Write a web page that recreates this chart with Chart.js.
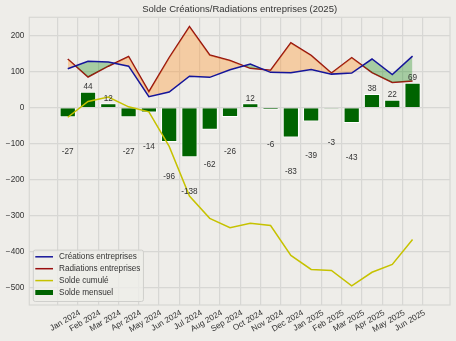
<!DOCTYPE html>
<html>
<head>
<meta charset="utf-8">
<script src="https://cdn.jsdelivr.net/npm/chart.js@4.4.1/dist/chart.umd.min.js"></script>
<style>
  html, body { margin: 0; padding: 0; background: #eeede9; }
  canvas { display: block; }
</style>
</head>
<body>
<canvas id="chart" width="456" height="341"></canvas>
<script>
const months = ["Jan 2024", "Feb 2024", "Mar 2024", "Apr 2024", "May 2024", "Jun 2024",
  "Jul 2024", "Aug 2024", "Sep 2024", "Oct 2024", "Nov 2024", "Dec 2024",
  "Jan 2025", "Feb 2025", "Mar 2025", "Apr 2025", "May 2025", "Jun 2025"];
const creations = [108, 129, 127, 115, 30, 43, 87, 84, 105, 121, 98, 97, 106, 93, 96, 135, 92, 143];
const radiations = [135, 85, 115, 142, 44, 139, 225, 146, 131, 109, 104, 180, 145, 96, 139, 97, 70, 74];
const soldeMensuel = [-27, 44, 12, -27, -14, -96, -138, -62, -26, 12, -6, -83, -39, -3, -43, 38, 22, 69];
const soldeCumule = [-27, 17, 29, 2, -12, -108, -246, -308, -334, -322, -328, -411, -450, -453, -496, -458, -436, -367];
const yTicks = [-500, -400, -300, -200, -100, 0, 100, 200];

const FONT = "'Liberation Sans', Arial, sans-serif";
const FS = 8.2;
const BG = '#eeede9';
const GRID = '#d7d7d4';
const TXT = '#333333';

Chart.defaults.font.family = FONT;
Chart.defaults.font.size = FS;
Chart.defaults.color = TXT;

const pts = arr => arr.map((v, i) => ({ x: i, y: v }));

// background + plot frame
const framePlugin = {
  id: 'frame',
  beforeDraw(chart) {
    const { ctx, width, height } = chart;
    ctx.save();
    ctx.fillStyle = BG;
    ctx.fillRect(0, 0, width, height);
    ctx.restore();
  },
  beforeDatasetsDraw(chart) {
    const { ctx, chartArea: a } = chart;
    ctx.save();
    ctx.strokeStyle = GRID;
    ctx.lineWidth = 1.2;
    ctx.strokeRect(a.left, a.top, a.right - a.left, a.bottom - a.top);
    ctx.restore();
  }
};

// value labels under / over the monthly bars
const barLabels = {
  id: 'barLabels',
  afterDatasetsDraw(chart) {
    const { ctx, scales: { x, y } } = chart;
    ctx.save();
    ctx.font = `${FS}px ${FONT}`;
    ctx.fillStyle = TXT;
    ctx.textAlign = 'center';
    ctx.textBaseline = 'middle';
    soldeMensuel.forEach((v, i) => {
      const py = y.getPixelForValue(v >= 0 ? v + 13.5 : v - 96);
      ctx.fillText(String(v), x.getPixelForValue(i), py);
    });
    ctx.restore();
  }
};

// legend placed inside the plot, lower left
const innerLegend = {
  id: 'innerLegend',
  afterDraw(chart) {
    const { ctx, chartArea: a } = chart;
    const items = chart.data.datasets;
    ctx.save();
    ctx.font = `${FS}px ${FONT}`;
    const rowH = 11.9;
    const textW = Math.max(...items.map(d => ctx.measureText(d.label).width));
    const h = 6.7 + rowH * (items.length - 1) + 9;
    const w = 2 + 17.7 + 6 + textW + 3;
    const left = a.left + 4;
    const top = a.bottom - 3.5 - h;
    ctx.fillStyle = 'rgba(238,237,233,0.8)';
    ctx.strokeStyle = '#cfcfcc';
    ctx.lineWidth = 1;
    ctx.beginPath();
    ctx.roundRect(left, top, w, h, 2);
    ctx.fill();
    ctx.stroke();
    items.forEach((d, i) => {
      const cy = top + 6.7 + i * rowH;
      const hx = left + 2;
      if (d.type === 'line') {
        ctx.strokeStyle = d.borderColor;
        ctx.lineWidth = 1.5;
        ctx.beginPath();
        ctx.moveTo(hx, cy);
        ctx.lineTo(hx + 17.7, cy);
        ctx.stroke();
      } else {
        ctx.fillStyle = d.backgroundColor;
        ctx.fillRect(hx, cy - 2.5, 17.7, 5);
      }
      ctx.fillStyle = TXT;
      ctx.textAlign = 'left';
      ctx.textBaseline = 'middle';
      ctx.fillText(d.label, hx + 17.7 + 6, cy);
    });
    ctx.restore();
  }
};

new Chart(document.getElementById('chart'), {
  type: 'bar',
  data: {
    datasets: [
      {
        type: 'line',
        label: 'Créations entreprises',
        data: pts(creations),
        borderColor: '#15159a',
        borderWidth: 1.5,
        pointRadius: 0,
        fill: { target: 1, above: 'rgba(0,128,0,0.3)', below: 'rgba(255,150,50,0.38)' },
        order: 2
      },
      {
        type: 'line',
        label: 'Radiations entreprises',
        data: pts(radiations),
        borderColor: '#9a0f0f',
        borderWidth: 1.5,
        pointRadius: 0,
        fill: false,
        order: 2
      },
      {
        type: 'line',
        label: 'Solde cumulé',
        data: pts(soldeCumule),
        borderColor: '#c6c200',
        borderWidth: 1.5,
        pointRadius: 0,
        fill: false,
        order: 1
      },
      {
        type: 'bar',
        label: 'Solde mensuel',
        data: pts(soldeMensuel),
        backgroundColor: '#006400',
        borderColor: '#ffffff',
        borderWidth: 1,
        barPercentage: 0.8,
        categoryPercentage: 1,
        order: 3
      }
    ]
  },
  options: {
    responsive: false,
    animation: false,
    layout: { padding: { left: 0, right: 6, top: 0, bottom: 0 } },
    plugins: {
      legend: { display: false },
      tooltip: { enabled: false },
      title: {
        display: true,
        text: 'Solde Créations/Radiations entreprises (2025)',
        fullSize: false,
        font: { size: 9.5, weight: 'normal' },
        color: TXT,
        padding: { top: 3.5, bottom: 2.4 }
      }
    },
    scales: {
      x: {
        type: 'linear',
        min: -1.32,
        max: 18.27,
        afterBuildTicks: axis => { axis.ticks = months.map((m, i) => ({ value: i })); },
        afterFit: axis => { axis.height = 36; },
        grid: { color: GRID, lineWidth: 1.2, drawTicks: false },
        border: { display: false },
        ticks: {
          autoSkip: false,
          minRotation: 30,
          maxRotation: 30,
          padding: 3,
          labelOffset: 12,
          callback: v => months[v]
        }
      },
      y: {
        min: -549,
        max: 251,
        afterBuildTicks: axis => { axis.ticks = yTicks.map(v => ({ value: v })); },
        afterFit: axis => { axis.width = 29.3; },
        grid: { color: GRID, lineWidth: 1.2, drawTicks: false },
        border: { display: false },
        ticks: {
          padding: 5,
          callback: v => (v < 0 ? '\u2212' + Math.abs(v) : String(v))
        }
      }
    }
  },
  plugins: [framePlugin, barLabels, innerLegend]
});
</script>
</body>
</html>
